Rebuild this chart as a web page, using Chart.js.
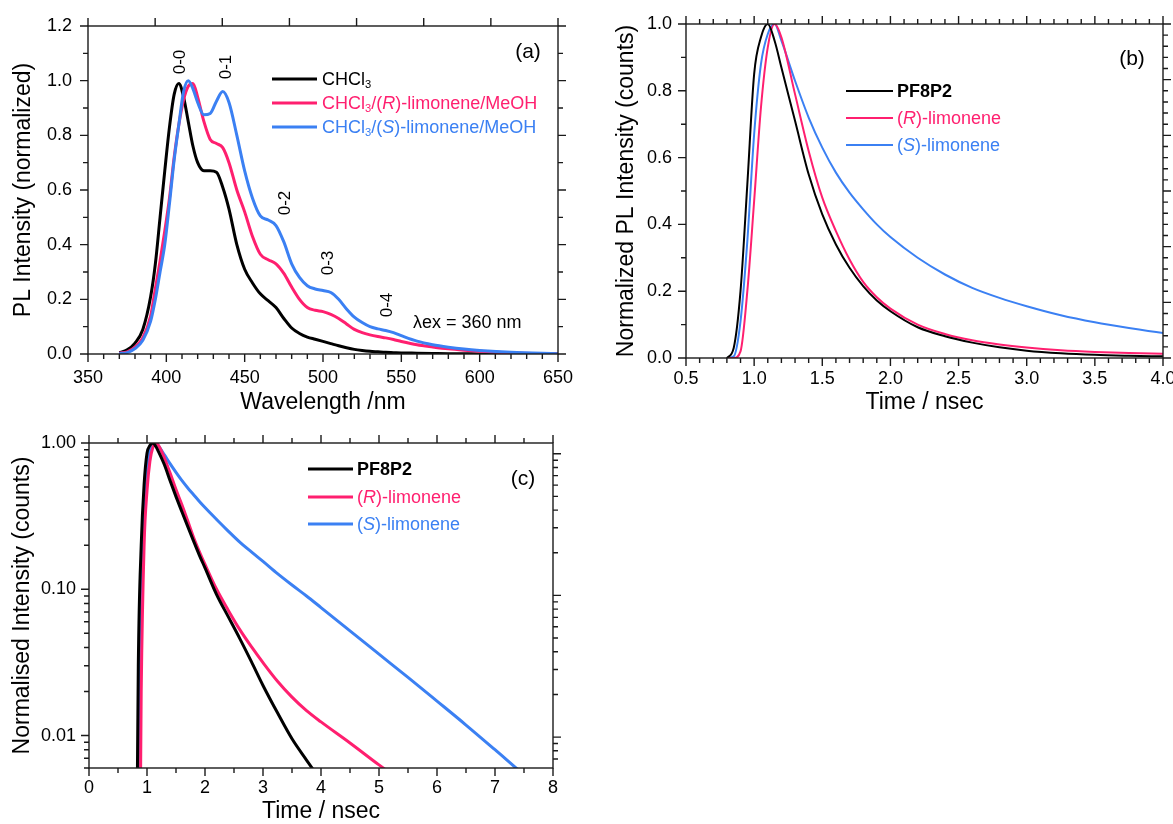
<!DOCTYPE html>
<html>
<head>
<meta charset="utf-8">
<script src="https://cdn.jsdelivr.net/npm/chart.js@4.4.1/dist/chart.umd.min.js"></script>
<style>
  html, body { margin: 0; padding: 0; background: #fff; }
  #wrap { position: relative; width: 1173px; height: 824px; }
  canvas { position: absolute; left: 0; top: 0; }
</style>
</head>
<body>
<div id="wrap">
  <canvas id="chartA" width="1173" height="824"></canvas>
  <canvas id="chartB" width="1173" height="824"></canvas>
  <canvas id="chartC" width="1173" height="824"></canvas>
</div>
<script>
// ---- data ----
// (a) PL spectra
const wavelengths = [370, 375, 380, 385, 390, 393, 396, 399, 402, 405, 408, 411, 414, 417, 420, 424, 428, 432, 436, 440,
  445, 450, 455, 460, 465, 470, 475, 480, 485, 490, 495, 500, 505, 510, 515, 520, 525, 530, 535, 540,
  545, 550, 560, 570, 580, 590, 600, 620, 650];
const chcl3PL = [0.005, 0.015, 0.04, 0.09, 0.21, 0.33, 0.5, 0.67, 0.83, 0.95, 0.99, 0.94, 0.85, 0.76, 0.70, 0.67, 0.67, 0.665, 0.61, 0.53,
  0.40, 0.31, 0.26, 0.22, 0.195, 0.17, 0.13, 0.095, 0.075, 0.062, 0.054, 0.046, 0.038, 0.03, 0.023, 0.017, 0.013, 0.01, 0.008, 0.006,
  0.005, 0.004, 0.003, 0.002, 0.001, 0.001, 0, 0, 0];
const rLimoPL = [0.003, 0.008, 0.025, 0.06, 0.14, 0.24, 0.34, 0.45, 0.57, 0.72, 0.84, 0.93, 0.98, 0.99, 0.94, 0.85, 0.785, 0.77, 0.755, 0.70,
  0.60, 0.52, 0.43, 0.365, 0.345, 0.33, 0.295, 0.245, 0.20, 0.17, 0.16, 0.155, 0.145, 0.13, 0.11, 0.09, 0.078, 0.07, 0.064, 0.059,
  0.053, 0.046, 0.034, 0.026, 0.019, 0.014, 0.01, 0.004, 0.001];
const sLimoPL = [0.002, 0.005, 0.02, 0.05, 0.12, 0.20, 0.30, 0.40, 0.55, 0.71, 0.84, 0.96, 1.0, 0.97, 0.92, 0.875, 0.88, 0.925, 0.96, 0.92,
  0.80, 0.67, 0.57, 0.505, 0.49, 0.47, 0.41, 0.33, 0.28, 0.25, 0.238, 0.232, 0.225, 0.20, 0.165, 0.135, 0.115, 0.10, 0.092, 0.086,
  0.078, 0.067, 0.047, 0.034, 0.025, 0.018, 0.013, 0.006, 0.001];

// (b), (c) PL decays
const timeNs = [0.8, 0.85, 0.9, 0.95, 1.0, 1.05, 1.1, 1.15, 1.2, 1.3, 1.4, 1.5, 1.6, 1.7, 1.8, 1.9, 2.0, 2.2, 2.4, 2.6,
  2.8, 3.0, 3.25, 3.5, 3.75, 4.0, 4.5, 5.0, 5.5, 6.0, 6.5, 7.0, 7.5, 8.0];
const pf8p2Decay = [0, 0.03, 0.2, 0.52, 0.85, 0.96, 1.0, 0.95, 0.87, 0.71, 0.55, 0.43, 0.34, 0.27, 0.215, 0.172, 0.14, 0.092, 0.065, 0.046,
  0.032, 0.022, 0.0143, 0.0095, 0.0068, 0.0049, null, null, null, null, null, null, null, null];
const rLimoDecay = [0, 0, 0.02, 0.2, 0.47, 0.75, 0.93, 1.0, 0.96, 0.79, 0.62, 0.48, 0.38, 0.295, 0.228, 0.182, 0.148, 0.1, 0.072, 0.053,
  0.0405, 0.0315, 0.0235, 0.0183, 0.0148, 0.0124, 0.0089, 0.0063, 0.0045, null, null, null, null, null];
const sLimoDecay = [0, 0.005, 0.11, 0.35, 0.67, 0.88, 0.97, 1.0, 0.95, 0.83, 0.72, 0.63, 0.555, 0.495, 0.445, 0.40, 0.362, 0.30, 0.25, 0.21,
  0.18, 0.155, 0.128, 0.107, 0.09, 0.075, 0.052, 0.036, 0.025, 0.0172, 0.0118, 0.008, 0.0054, 0.0038];

// tick labels
const specXTicks = [350, 400, 450, 500, 550, 600, 650];
const specYTicks = [0, 0.2, 0.4, 0.6, 0.8, 1.0, 1.2];
const decayXTicks = [0.5, 1.0, 1.5, 2.0, 2.5, 3.0, 3.5, 4.0];
const decayYTicks = [0, 0.2, 0.4, 0.6, 0.8, 1.0];
const logXTicks = [0, 1, 2, 3, 4, 5, 6, 7, 8];
const logYTicks = [0.01, 0.1, 1];

const FONT = '"Liberation Sans", Arial, Helvetica, sans-serif';
const BLACK = '#000000';
const PINK = '#ff1f6f';
const BLUE = '#3b80f3';
const LOG_FLOOR = 1e-4; // zero counts drawn below the log axis so the rise comes up from the bottom

// ---- helpers ----
function pts(xs, ys) {
  return xs.map((x, i) => ({ x: x, y: ys[i] }));
}

function steps(from, to, step) {
  const n = Math.round((to - from) / step);
  return Array.from({ length: n + 1 }, (_, i) => from + i * step);
}

function isMult(v, m) {
  return Math.abs(v / m - Math.round(v / m)) < 1e-6;
}

function linMarks(scale, side, vals, majorStep) {
  return vals.map(v => ({ side: side, p: scale.getPixelForValue(v), len: isMult(v, majorStep) ? 8 : 5 }));
}

// ticks of the mirrored axes that do not follow the main scale
function fracMarks(chart, side, n, every) {
  const a = chart.chartArea;
  const horiz = side === 'top' || side === 'bottom';
  return Array.from({ length: n + 1 }, (_, k) => ({
    side: side,
    len: k % every === 0 ? 8 : 5,
    p: horiz ? a.left + (a.right - a.left) * k / n : a.bottom - (a.bottom - a.top) * k / n
  }));
}

function logVals(min, max) {
  const out = [];
  for (let e = -3; e <= 1; e++) {
    for (let m = 1; m <= 9; m++) {
      const v = m * Math.pow(10, e);
      if (v >= min * 0.999 && v <= max * 1.001) out.push({ v: v, major: m === 1 });
    }
  }
  return out;
}

function frameLayer(marksFn) {
  return {
    id: 'frameLayer',
    afterDraw(chart) {
      const ctx = chart.ctx;
      const a = chart.chartArea;
      ctx.save();
      ctx.strokeStyle = '#1a1a1a';
      ctx.lineWidth = 1.4;
      ctx.strokeRect(a.left, a.top, a.right - a.left, a.bottom - a.top);
      ctx.beginPath();
      for (const m of marksFn(chart)) {
        if (m.side === 'bottom') { ctx.moveTo(m.p, a.bottom); ctx.lineTo(m.p, a.bottom + m.len); }
        if (m.side === 'top') { ctx.moveTo(m.p, a.top); ctx.lineTo(m.p, a.top - m.len); }
        if (m.side === 'left') { ctx.moveTo(a.left, m.p); ctx.lineTo(a.left - m.len, m.p); }
        if (m.side === 'right') { ctx.moveTo(a.right, m.p); ctx.lineTo(a.right + m.len, m.p); }
      }
      ctx.stroke();
      ctx.restore();
    }
  };
}

function runFont(r, size) {
  return (r.s === 'italic' ? 'italic ' : '') + (r.s === 'bold' ? 'bold ' : '') +
    (r.s === 'sub' ? size * 0.62 : size) + 'px ' + FONT;
}

function drawRuns(ctx, runs, size, color, align) {
  let total = 0;
  for (const r of runs) { ctx.font = runFont(r, size); total += ctx.measureText(r.t).width; }
  let cx = align === 'center' ? -total / 2 : 0;
  ctx.fillStyle = color;
  ctx.textBaseline = 'alphabetic';
  ctx.textAlign = 'left';
  const base = size * 0.36;
  for (const r of runs) {
    ctx.font = runFont(r, size);
    ctx.fillText(r.t, cx, base + (r.s === 'sub' ? size * 0.12 : 0));
    cx += ctx.measureText(r.t).width;
  }
}

function textLayer(items) {
  return {
    id: 'textLayer',
    afterDraw(chart) {
      const ctx = chart.ctx;
      for (const it of items) {
        ctx.save();
        if (it.line) {
          ctx.strokeStyle = it.color;
          ctx.lineWidth = it.lw;
          ctx.beginPath();
          ctx.moveTo(it.line[0], it.y);
          ctx.lineTo(it.line[1], it.y);
          ctx.stroke();
        }
        ctx.translate(it.x, it.y);
        if (it.rot) ctx.rotate(-Math.PI / 2);
        drawRuns(ctx, it.runs, it.size, it.color, it.align || 'left');
        ctx.restore();
      }
    }
  };
}

function axis(o) {
  return {
    type: o.type || 'linear',
    min: o.min,
    max: o.max,
    afterBuildTicks: s => { s.ticks = o.ticks.map(v => ({ value: v })); },
    afterFit: s => {
      if (o.w) s.width = o.w;
      if (o.h) s.height = o.h;
      s.paddingLeft = 0; s.paddingRight = 0; s.paddingTop = 0; s.paddingBottom = 0;
    },
    grid: { display: false, drawTicks: false },
    border: { display: false },
    ticks: {
      autoSkip: false, maxRotation: 0, minRotation: 0, padding: o.pad, color: '#000',
      font: { family: FONT, size: 18 }, callback: o.fmt
    },
    title: {
      display: true, text: o.title, color: '#000',
      font: { family: FONT, size: 23, lineHeight: 1 }, padding: o.titlePad
    }
  };
}

function makeChart(id, xs, series, lw, layoutPad, scales, plugins) {
  return new Chart(document.getElementById(id), {
    type: 'line',
    data: {
      datasets: series.map(s => ({
        data: pts(xs, s.values),
        borderColor: s.color,
        borderWidth: lw,
        pointRadius: 0,
        fill: false,
        cubicInterpolationMode: 'monotone',
        order: s.order
      }))
    },
    options: {
      responsive: false,
      animation: false,
      events: [],
      layout: { padding: layoutPad },
      plugins: { legend: { display: false }, tooltip: { enabled: false } },
      scales: scales
    },
    plugins: plugins
  });
}

function forLog(vals) {
  return vals.map(v => (v === 0 ? LOG_FLOOR : v));
}

// ---- (a) ----
makeChart('chartA', wavelengths, [
  { values: chcl3PL, color: BLACK, order: 2 },
  { values: rLimoPL, color: PINK, order: 1 },
  { values: sLimoPL, color: BLUE, order: 0 }
], 3, { left: 8, top: 26, right: 615, bottom: 405 }, {
  x: axis({ min: 350, max: 650, ticks: specXTicks, h: 65, pad: 13, fmt: v => String(v),
    title: 'Wavelength /nm', titlePad: { top: 0, bottom: 4.5 } }),
  y: axis({ min: 0, max: 1.2, ticks: specYTicks, w: 80, pad: 16, fmt: v => v.toFixed(1),
    title: 'PL Intensity (normalized)', titlePad: { top: 4.5, bottom: 0 } })
}, [
  frameLayer(chart => {
    const { x, y } = chart.scales;
    return [].concat(
      linMarks(x, 'bottom', steps(350, 650, 10), 50),
      linMarks(y, 'left', steps(0, 1.2, 0.1), 0.2),
      linMarks(y, 'right', steps(0, 1.2, 0.1), 0.2),
      fracMarks(chart, 'top', 7, 1)
    );
  }),
  textLayer([
    { x: 528, y: 50, size: 21, color: BLACK, align: 'center', runs: [{ t: '(a)' }] },
    { x: 179, y: 62, size: 17, color: BLACK, align: 'center', rot: true, runs: [{ t: '0-0' }] },
    { x: 225, y: 67, size: 17, color: BLACK, align: 'center', rot: true, runs: [{ t: '0-1' }] },
    { x: 284, y: 203, size: 17, color: BLACK, align: 'center', rot: true, runs: [{ t: '0-2' }] },
    { x: 327, y: 263, size: 17, color: BLACK, align: 'center', rot: true, runs: [{ t: '0-3' }] },
    { x: 386, y: 305, size: 17, color: BLACK, align: 'center', rot: true, runs: [{ t: '0-4' }] },
    { x: 413, y: 322, size: 18, color: BLACK, runs: [{ t: 'λex = 360 nm' }] },
    { x: 322, y: 79, size: 18, color: BLACK, line: [272, 317], lw: 3,
      runs: [{ t: 'CHCl' }, { t: '3', s: 'sub' }] },
    { x: 322, y: 103, size: 18, color: PINK, line: [272, 317], lw: 3,
      runs: [{ t: 'CHCl' }, { t: '3', s: 'sub' }, { t: '/(' }, { t: 'R', s: 'italic' }, { t: ')-limonene/MeOH' }] },
    { x: 322, y: 127, size: 18, color: BLUE, line: [272, 317], lw: 3,
      runs: [{ t: 'CHCl' }, { t: '3', s: 'sub' }, { t: '/(' }, { t: 'S', s: 'italic' }, { t: ')-limonene/MeOH' }] }
  ])
]);

// ---- (b) ----
makeChart('chartB', timeNs, [
  { values: pf8p2Decay, color: BLACK, order: 0 },
  { values: rLimoDecay, color: PINK, order: 1 },
  { values: sLimoDecay, color: BLUE, order: 2 }
], 2, { left: 606, top: 24, right: 10, bottom: 401 }, {
  x: axis({ min: 0.5, max: 4.0, ticks: decayXTicks, h: 65, pad: 10, fmt: v => v.toFixed(1),
    title: 'Time / nsec', titlePad: { top: 0, bottom: 8.5 } }),
  y: axis({ min: 0, max: 1.0, ticks: decayYTicks, w: 80, pad: 14, fmt: v => v.toFixed(1),
    title: 'Normalized PL Intensity (counts)', titlePad: { top: 9.5, bottom: 0 } })
}, [
  frameLayer(chart => {
    const { x, y } = chart.scales;
    return [].concat(
      linMarks(x, 'bottom', steps(0.5, 4.0, 0.1), 0.5),
      linMarks(x, 'top', steps(0.5, 4.0, 0.1), 0.5),
      linMarks(y, 'left', steps(0, 1.0, 0.1), 0.2),
      fracMarks(chart, 'right', 30, 5)
    );
  }),
  textLayer([
    { x: 1132, y: 57, size: 21, color: BLACK, align: 'center', runs: [{ t: '(b)' }] },
    { x: 897, y: 91, size: 18, color: BLACK, line: [846, 893], lw: 2, runs: [{ t: 'PF8P2', s: 'bold' }] },
    { x: 897, y: 118, size: 18, color: PINK, line: [846, 893], lw: 2,
      runs: [{ t: '(' }, { t: 'R', s: 'italic' }, { t: ')-limonene' }] },
    { x: 897, y: 145, size: 18, color: BLUE, line: [846, 893], lw: 2,
      runs: [{ t: '(' }, { t: 'S', s: 'italic' }, { t: ')-limonene' }] }
  ])
]);

// ---- (c) ----
const rightLogMin = 0.00605, rightLogMax = 1.19;
makeChart('chartC', timeNs, [
  { values: forLog(pf8p2Decay), color: BLACK, order: 0 },
  { values: forLog(rLimoDecay), color: PINK, order: 1 },
  { values: forLog(sLimoDecay), color: BLUE, order: 2 }
], 3, { left: 9, top: 443, right: 620, bottom: 0 }, {
  x: axis({ min: 0, max: 8, ticks: logXTicks, h: 56, pad: 9, fmt: v => String(v),
    title: 'Time / nsec', titlePad: { top: 0, bottom: 0.5 } }),
  y: axis({ type: 'logarithmic', min: 0.006, max: 1.0, ticks: logYTicks, w: 80, pad: 13, fmt: v => v.toFixed(2),
    title: 'Normalised Intensity (counts)', titlePad: { top: 2.5, bottom: 0 } })
}, [
  frameLayer(chart => {
    const { x, y } = chart.scales;
    const a = chart.chartArea;
    const lr = Math.log10(rightLogMax) - Math.log10(rightLogMin);
    return [].concat(
      linMarks(x, 'bottom', steps(0, 8, 0.5), 1),
      linMarks(x, 'top', steps(0, 8, 0.5), 1),
      logVals(0.006, 1.0).map(t => ({ side: 'left', p: y.getPixelForValue(t.v), len: t.major ? 8 : 5 })),
      logVals(rightLogMin, rightLogMax).map(t => ({
        side: 'right', len: t.major ? 8 : 5,
        p: a.bottom - (Math.log10(t.v) - Math.log10(rightLogMin)) / lr * (a.bottom - a.top)
      }))
    );
  }),
  textLayer([
    { x: 523, y: 477, size: 21, color: BLACK, align: 'center', runs: [{ t: '(c)' }] },
    { x: 357, y: 469, size: 18, color: BLACK, line: [308, 353], lw: 3, runs: [{ t: 'PF8P2', s: 'bold' }] },
    { x: 357, y: 497, size: 18, color: PINK, line: [308, 353], lw: 3,
      runs: [{ t: '(' }, { t: 'R', s: 'italic' }, { t: ')-limonene' }] },
    { x: 357, y: 524, size: 18, color: BLUE, line: [308, 353], lw: 3,
      runs: [{ t: '(' }, { t: 'S', s: 'italic' }, { t: ')-limonene' }] }
  ])
]);
</script>
</body>
</html>
